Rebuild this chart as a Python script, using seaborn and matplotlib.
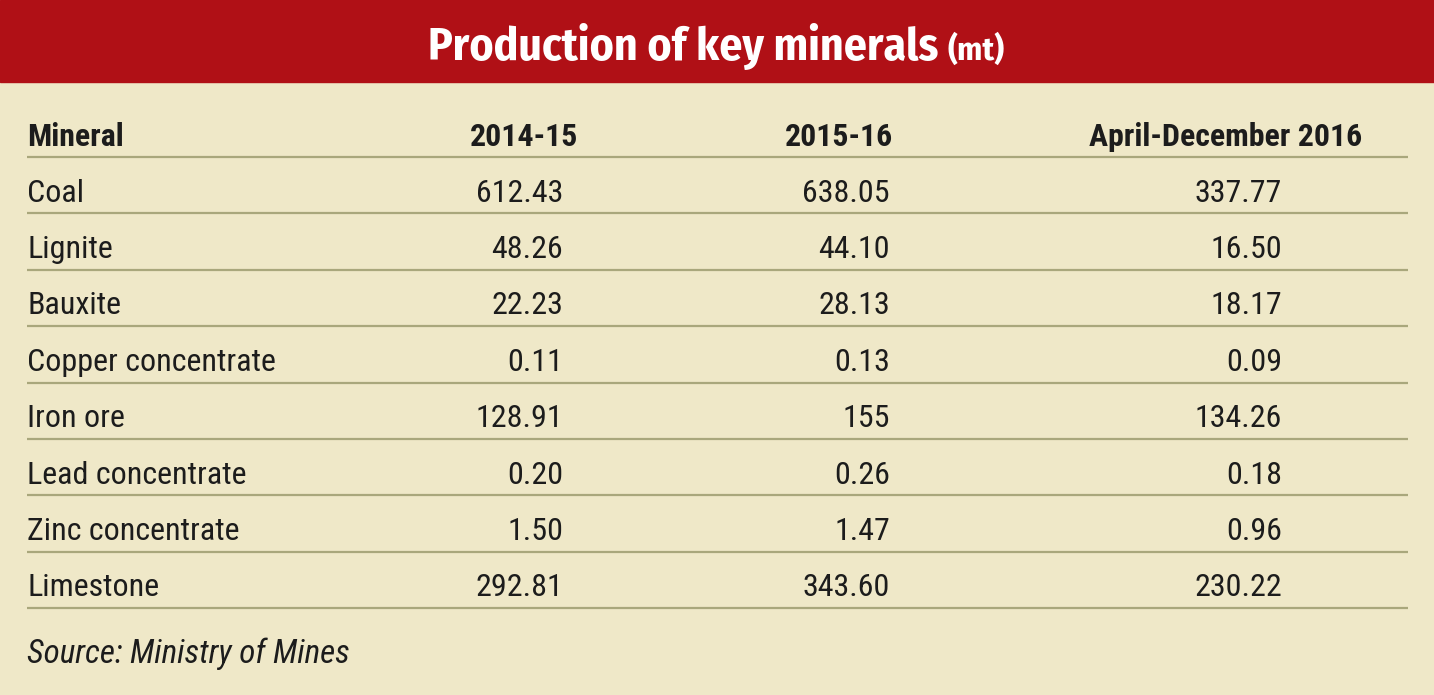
import matplotlib
matplotlib.use("Agg")
import matplotlib.pyplot as plt
import seaborn as sns
from matplotlib import font_manager

# ---- data ----
minerals = ["Coal", "Lignite", "Bauxite", "Copper concentrate", "Iron ore",
            "Lead concentrate", "Zinc concentrate", "Limestone"]
columns = ["Mineral", "2014-15", "2015-16", "April-December 2016"]
v_2014_15 = ["612.43", "48.26", "22.23", "0.11", "128.91", "0.20", "1.50", "292.81"]
v_2015_16 = ["638.05", "44.10", "28.13", "0.13", "155", "0.26", "1.47", "343.60"]
v_apr_dec_2016 = ["337.77", "16.50", "18.17", "0.09", "134.26", "0.18", "0.96", "230.22"]
title_main = "Production of key minerals"
title_unit = "(mt)"
source = "Source: Ministry of Mines"

sns.set_theme(style="white")
names = {f.name for f in font_manager.fontManager.ttflist}


def pick(*cands):
    for c in cands:
        if c in names:
            return c
    return "DejaVu Sans"


BODY = pick("Roboto Condensed", "Archivo Narrow", "Roboto")
TITLE = pick("Fira Sans Condensed", "Roboto Condensed", "Roboto")
plt.rcParams["font.family"] = [BODY, "DejaVu Sans"]

W, H = 1434, 695
fig = plt.figure(figsize=(W / 100, H / 100), dpi=100)
fig.patch.set_facecolor("#EFE8C8")
ax = fig.add_axes([0, 0, 1, 1])
ax.set_xlim(0, W)
ax.set_ylim(H, 0)
ax.axis("off")
ax.set_facecolor("#EFE8C8")

RED = "#B01016"
TXT = "#1c1c1c"
RULE = "#A9A77C"

fig.canvas.draw()
r = fig.canvas.get_renderer()


def fit_size(text, target_w, **kw):
    t = ax.text(0, 0, text, fontsize=20, **kw)
    w = t.get_window_extent(r).width
    t.remove()
    return 20 * target_w / w


body_size = fit_size("Copper concentrate", 248, family=[BODY, "DejaVu Sans"])
hdr_size = fit_size("April-December 2016", 272, family=[BODY, "DejaVu Sans"], fontweight="bold")
title_size = fit_size(title_main, 510, family=[TITLE, "DejaVu Sans"], fontweight="bold")
unit_size = fit_size(title_unit, 57, family=[TITLE, "DejaVu Sans"], fontweight="bold")
src_size = fit_size(source, 323, family=[BODY, "DejaVu Sans"], style="italic")

# banner
ax.axhspan(0, 82, color=RED, zorder=0)
ax.text(428, 60, title_main, fontsize=title_size, fontweight="bold", color="white",
        ha="left", va="baseline", family=[TITLE, "DejaVu Sans"])
ax.text(1005, 60, title_unit, fontsize=unit_size, fontweight="bold", color="white",
        ha="right", va="baseline", family=[TITLE, "DejaVu Sans"])

left_x = 27
right_hdr = [578, 893, 1362]
val_right = [563, 890, 1282]

ax.text(left_x, 146, columns[0], fontsize=hdr_size, fontweight="bold", color=TXT,
        ha="left", va="baseline")
for c, xr in zip(columns[1:], right_hdr):
    ax.text(xr, 146, c, fontsize=hdr_size, fontweight="bold", color=TXT,
            ha="right", va="baseline")

step = 56.4
rule_top = 157
for i in range(len(minerals) + 1):
    y = rule_top + i * step
    ax.plot([27, 1408], [y, y], color=RULE, lw=1.6, solid_capstyle="butt")

series = [v_2014_15, v_2015_16, v_apr_dec_2016]
for i, m in enumerate(minerals):
    yb = rule_top + i * step + 44.5
    ax.text(left_x, yb, m, fontsize=body_size, color=TXT, ha="left", va="baseline")
    for vals, xr in zip(series, val_right):
        ax.text(xr, yb, vals[i], fontsize=body_size, color=TXT, ha="right", va="baseline")

ax.text(left_x, 663, source, fontsize=src_size, style="italic", color=TXT,
        ha="left", va="baseline")

fig.savefig("out.png", dpi=100, facecolor=fig.get_facecolor())
